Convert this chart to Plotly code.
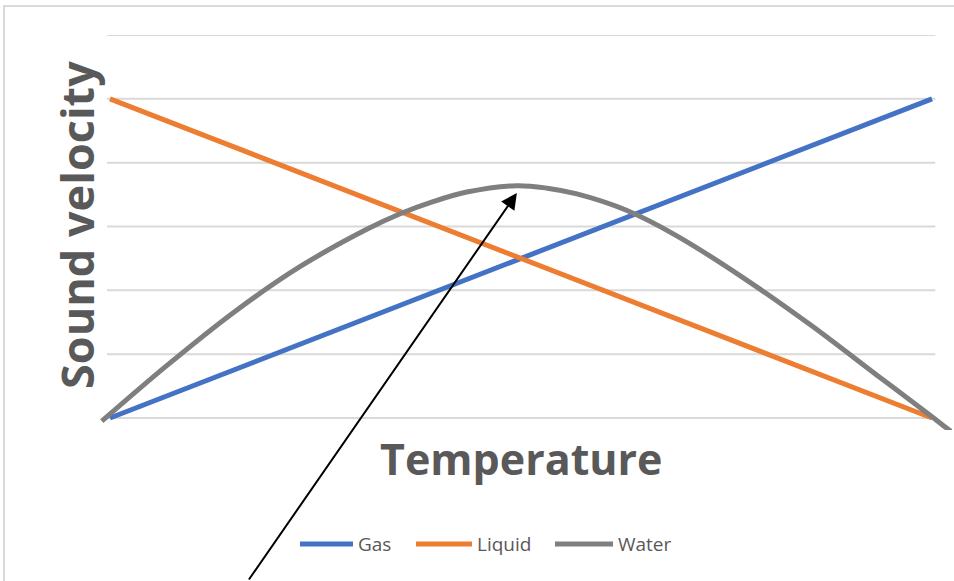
import plotly.graph_objects as go

# Series data
temperature = [0, 10]
gas = [0, 5]
liquid = [5, 0]

water_temp = [-0.10, 0.69, 1.50, 2.31, 3.13, 3.53, 3.93, 4.34, 4.95, 5.32,
              5.68, 6.29, 6.90, 7.70, 8.52, 9.33, 9.98, 10.16, 10.24]
water = [-0.05, 0.82, 1.65, 2.37, 2.96, 3.20, 3.39, 3.54, 3.64, 3.60,
         3.51, 3.25, 2.85, 2.20, 1.46, 0.67, 0.04, -0.14, -0.22]

grid_values = [0, 1, 2, 3, 4, 5, 6]

series_names = ["Gas", "Liquid", "Water"]
series_colors = ["#4472C4", "#ED7D31", "#7F7F7F"]

W, H = 954, 581
L, R, T, B = 98, 2, 35, 151
PW, PH = W - L - R, H - T - B


def px(xp):
    return (xp - L) / PW


def py(yp):
    return 1 - (yp - T) / PH


fig = go.Figure()

fig.add_trace(go.Scatter(x=temperature, y=gas, mode="lines", name=series_names[0],
                         line=dict(color=series_colors[0], width=5)))
fig.add_trace(go.Scatter(x=temperature, y=liquid, mode="lines", name=series_names[1],
                         line=dict(color=series_colors[1], width=5)))
fig.add_trace(go.Scatter(x=water_temp, y=water, mode="lines", name=series_names[2],
                         line=dict(color=series_colors[2], width=5, shape="spline", smoothing=1.0)))

shapes = []
for g in grid_values:
    shapes.append(dict(type="line", xref="x", yref="y", x0=-0.036, x1=10.04,
                       y0=g, y1=g, line=dict(color="#D9D9D9", width=2), layer="below"))
# chart frame
shapes.append(dict(type="rect", xref="paper", yref="paper",
                   x0=px(4), x1=px(962), y0=py(6), y1=py(600),
                   line=dict(color="#D9D9D9", width=2), layer="below"))

annotations = [
    dict(text="<b>Temperature</b>", xref="paper", yref="paper",
         x=px(521), y=py(458), showarrow=False,
         font=dict(family="Open Sans", size=43, color="#595959"),
         xanchor="center", yanchor="middle"),
    dict(text="<b>Sound velocity</b>", xref="paper", yref="paper",
         x=px(76), y=py(225), showarrow=False, textangle=-90,
         font=dict(family="Open Sans", size=45, color="#595959"),
         xanchor="center", yanchor="middle"),
    dict(text="", x=4.95, y=3.525, xref="x", yref="y",
         showarrow=True, ax=-269, ay=392, axref="pixel", ayref="pixel",
         arrowhead=2, arrowsize=1.6, arrowwidth=2, arrowcolor="black"),
]

# legend row below the plot
legend_line_x = [(300, 353), (416, 472), (555, 613)]
legend_y = 544
for name, color, (x0, x1) in zip(series_names, series_colors, legend_line_x):
    shapes.append(dict(type="line", xref="paper", yref="paper",
                       x0=px(x0), x1=px(x1), y0=py(legend_y), y1=py(legend_y),
                       line=dict(color=color, width=5)))
    annotations.append(dict(text=name, xref="paper", yref="paper",
                            x=px(x1 + 3), y=py(legend_y), showarrow=False,
                            xanchor="left", yanchor="middle",
                            font=dict(family="Open Sans", size=19, color="#595959")))

fig.update_layout(
    width=W, height=H,
    margin=dict(l=L, r=R, t=T, b=B),
    paper_bgcolor="white", plot_bgcolor="white",
    xaxis=dict(range=[-0.146, 10.243], visible=False, fixedrange=True),
    yaxis=dict(range=[-0.188, 6.0], visible=False, fixedrange=True),
    shapes=shapes,
    annotations=annotations,
    showlegend=False,
)

fig.write_html("out.html")
